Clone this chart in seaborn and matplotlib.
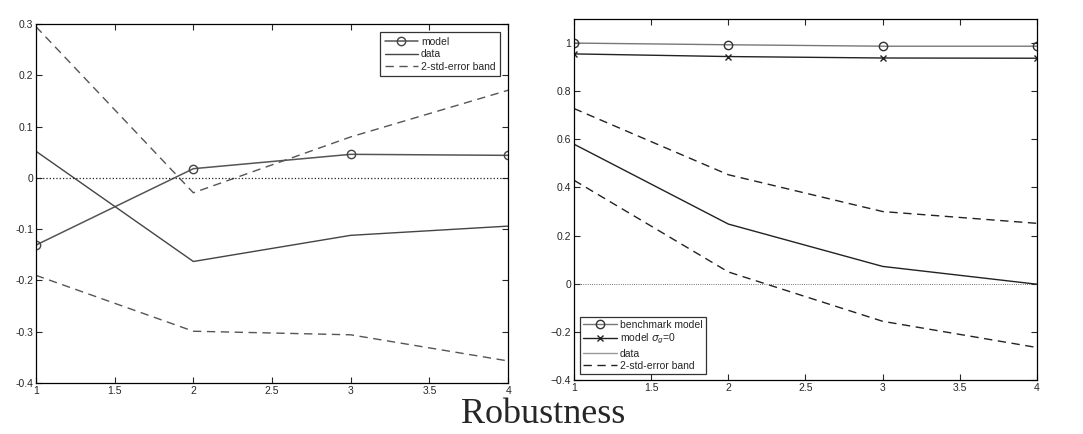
import numpy as np
import pandas as pd
import matplotlib
matplotlib.use("Agg")
import matplotlib.pyplot as plt
import seaborn as sns
from matplotlib.ticker import FormatStrFormatter, FuncFormatter

# Horizon (x axis)
horizon = [1, 2, 3, 4]

# Left panel values
left_model = [-0.131, 0.018, 0.046, 0.044]
left_data = [0.052, -0.163, -0.112, -0.094]
left_band_upper = [0.295, -0.029, 0.080, 0.171]
left_band_lower = [-0.190, -0.299, -0.306, -0.357]

# Right panel values
right_benchmark = [1.000, 0.993, 0.987, 0.987]
right_sigma0 = [0.955, 0.944, 0.938, 0.937]
right_data = [0.580, 0.248, 0.072, -0.002]
right_band_upper = [0.728, 0.453, 0.300, 0.251]
right_band_lower = [0.430, 0.049, -0.156, -0.265]

sns.set_style("ticks")
plt.rcParams['font.family'] = ['Liberation Sans', 'DejaVu Sans']

fig = plt.figure(figsize=(10.83, 4.34), dpi=100)
ax1 = fig.add_axes([0.0332, 0.1175, 0.436, 0.827])
ax2 = fig.add_axes([0.530, 0.1244, 0.4275, 0.8318])

dash = (0, (6, 4))


def fmt_tick(v, minus='-'):
    s = '%g' % (round(v, 2) + 0.0)
    if s == '-0':
        s = '0'
    return s.replace('-', minus)


# ---- left panel
sns.lineplot(x=horizon, y=left_model, ax=ax1, color='#555555', lw=1.1,
             marker='o', markersize=6, markerfacecolor='none',
             markeredgecolor='#444444', markeredgewidth=1.0, label='model')
sns.lineplot(x=horizon, y=left_data, ax=ax1, color='#444444', lw=1.0, label='data')
sns.lineplot(x=horizon, y=left_band_upper, ax=ax1, color='#555555', lw=1.0,
             linestyle=dash, label='2-std-error band')
sns.lineplot(x=horizon, y=left_band_lower, ax=ax1, color='#555555', lw=1.0,
             linestyle=dash)
ax1.axhline(0, color='#222222', lw=0.9, linestyle=':')
ax1.set_xlim(1, 4)
ax1.set_ylim(-0.4, 0.3)
ax1.set_xticks(np.arange(1, 4.01, 0.5))
ax1.set_yticks(np.arange(-0.4, 0.31, 0.1))
ax1.xaxis.set_major_formatter(FormatStrFormatter('%g'))
ax1.yaxis.set_major_formatter(FuncFormatter(lambda v, p: fmt_tick(v)))
leg1 = ax1.legend(loc='upper right', fontsize=7.5, frameon=True, fancybox=False,
                  edgecolor='black', handlelength=3.2, borderpad=0.4,
                  labelspacing=0.25, handletextpad=0.3, borderaxespad=0.8)
leg1.get_frame().set_linewidth(0.9)

# ---- right panel
sns.lineplot(x=horizon, y=right_benchmark, ax=ax2, color='#777777', lw=1.0,
             marker='o', markersize=6, markerfacecolor='none',
             markeredgecolor='#333333', markeredgewidth=1.0, label='benchmark model')
sns.lineplot(x=horizon, y=right_sigma0, ax=ax2, color='#222222', lw=1.0,
             marker='x', markersize=4, markeredgewidth=1.0,
             markeredgecolor='#222222', label=r'model $\sigma_g$=0')
sns.lineplot(x=horizon, y=right_data, ax=ax2, color='#222222', lw=1.0, label='data')
sns.lineplot(x=horizon, y=right_band_upper, ax=ax2, color='#222222', lw=1.0,
             linestyle=dash, label='2-std-error band')
sns.lineplot(x=horizon, y=right_band_lower, ax=ax2, color='#222222', lw=1.0,
             linestyle=dash)
ax2.axhline(0, color='#444444', lw=0.6, linestyle=':')
ax2.set_xlim(1, 4)
ax2.set_ylim(-0.4, 1.1)
ax2.set_xticks(np.arange(1, 4.01, 0.5))
ax2.set_yticks(np.arange(-0.4, 1.01, 0.2))
ax2.xaxis.set_major_formatter(FormatStrFormatter('%g'))
ax2.yaxis.set_major_formatter(FuncFormatter(lambda v, p: fmt_tick(v, '\u2212')))
leg2 = ax2.legend(loc='lower left', fontsize=7.5, frameon=True, fancybox=False,
                  edgecolor='black', handlelength=3.2, borderpad=0.3,
                  labelspacing=0.2, handletextpad=0.3, borderaxespad=0.6)
leg2.get_frame().set_linewidth(0.9)
leg2.get_lines()[2].set_color('#999999')

for ax in (ax1, ax2):
    ax.tick_params(direction='in', top=True, right=True, length=4,
                   width=0.8, labelsize=7.5, pad=2)
    for s in ax.spines.values():
        s.set_visible(True)
        s.set_linewidth(0.9)
        s.set_color('black')
    ax.set_xlabel('')
    ax.set_ylabel('')

fig.text(0.5014, 0.006, 'Robustness', ha='center', va='bottom',
         fontsize=26, family='Liberation Serif')

fig.savefig('out.png', dpi=100, facecolor='white')
